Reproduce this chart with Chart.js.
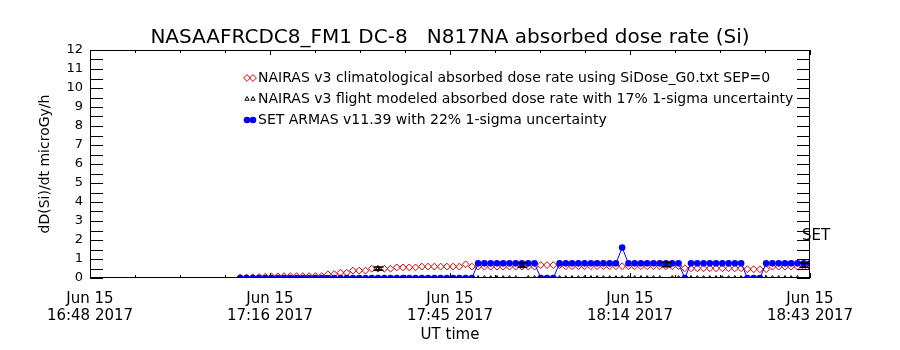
<!DOCTYPE html>
<html>
<head>
<meta charset="utf-8">
<title>N817NA absorbed dose rate</title>
<script src="https://cdn.jsdelivr.net/npm/chart.js@4.4.1/dist/chart.umd.min.js"></script>
<style>
  body { margin: 0; background: #fff; }
  #wrap { width: 900px; height: 350px; }
</style>
</head>
<body>
<div id="wrap"><canvas id="dose" width="900" height="350"></canvas></div>
<script>
// sample times, minutes after 16:48 UT on Jun 15 2017
var minutes = [
  24, 25, 26, 27, 28, 29, 30, 31, 32, 33,
  34, 35, 36, 37, 38, 39, 40, 41, 42, 43,
  44, 45, 46, 47, 48, 49, 50, 51, 52, 53,
  54, 55, 56, 57, 58, 59, 60, 61, 62, 63,
  64, 65, 66, 67, 68, 69, 70, 71, 72, 73,
  74, 75, 76, 77, 78, 79, 80, 81, 82, 83,
  84, 85, 86, 87, 88, 89, 90, 91, 92, 93,
  94, 95, 96, 97, 98, 99, 100, 101, 102, 103,
  104, 105, 106, 107, 108, 109, 110, 111, 112, 113,
  114, 115
];

// NAIRAS v3 climatological (microGy/h)
var climatological = [
  0.03, 0.03, 0.04, 0.06, 0.07, 0.08, 0.09, 0.10, 0.10, 0.10,
  0.10, 0.10, 0.10, 0.10, 0.19, 0.21, 0.28, 0.28, 0.39, 0.39,
  0.39, 0.49, 0.49, 0.49, 0.49, 0.56, 0.56, 0.56, 0.56, 0.60,
  0.60, 0.60, 0.60, 0.60, 0.60, 0.60, 0.72, 0.60, 0.60, 0.60,
  0.60, 0.60, 0.60, 0.60, 0.60, 0.60, 0.60, 0.60, 0.68, 0.68,
  0.68, 0.68, 0.62, 0.62, 0.62, 0.62, 0.62, 0.62, 0.62, 0.62,
  0.62, 0.62, 0.62, 0.62, 0.62, 0.62, 0.62, 0.62, 0.62, 0.62,
  0.62, 0.51, 0.51, 0.51, 0.51, 0.51, 0.51, 0.51, 0.51, 0.51,
  0.51, 0.46, 0.46, 0.46, 0.46, 0.60, 0.60, 0.60, 0.60, 0.60,
  0.60, 0.60
];

// NAIRAS v3 flight modeled (microGy/h)
var flightModeled = [
  0, 0, 0, 0, 0, 0, 0, 0, 0, 0,
  0, 0, 0, 0, 0, 0, 0, 0, 0, 0,
  0, 0, 0.49, 0, 0, 0, 0, 0, 0, 0,
  0, 0, 0, 0, 0, 0, 0, 0, 0, 0,
  0, 0, 0, 0, 0, 0.68, 0, 0, 0, 0,
  0, 0, 0, 0, 0, 0, 0, 0, 0, 0,
  0, 0, 0, 0, 0, 0, 0, 0, 0.71, 0,
  0, 0, 0, 0, 0, 0, 0, 0, 0, 0,
  0, 0, 0, 0, 0, 0, 0, 0, 0, 0,
  0.68, 0
];
var flightSigma = 0.17;

// SET ARMAS v11.39 (microGy/h)
var armas = [
  0, 0, 0, 0, 0, 0, 0, 0, 0, 0,
  0, 0, 0, 0, 0, 0, 0, 0, 0, 0,
  0, 0, 0, 0, 0, 0, 0, 0, 0, 0,
  0, 0, 0, 0, 0, 0, 0, 0, 0.77, 0.77,
  0.77, 0.77, 0.77, 0.77, 0.77, 0.77, 0.77, 0.77, 0, 0,
  0, 0.77, 0.77, 0.77, 0.77, 0.77, 0.77, 0.77, 0.77, 0.77,
  0.77, 1.6, 0.77, 0.77, 0.77, 0.77, 0.77, 0.77, 0.77, 0.77,
  0.77, 0, 0.77, 0.77, 0.77, 0.77, 0.77, 0.77, 0.77, 0.77,
  0.77, 0, 0, 0, 0.77, 0.77, 0.77, 0.77, 0.77, 0.77,
  0.77, 0.77
];

var xTickMinutes = [0, 28.75, 57.5, 86.25, 115];
var xTickLabels = [
  ["Jun 15", "16:48 2017"],
  ["Jun 15", "17:16 2017"],
  ["Jun 15", "17:45 2017"],
  ["Jun 15", "18:14 2017"],
  ["Jun 15", "18:43 2017"]
];
var xMinorStep = 7.1875;
var yMinorStep = 0.5;

var legendLabels = [
  "NAIRAS v3 climatological absorbed dose rate using SiDose_G0.txt SEP=0",
  "NAIRAS v3 flight modeled absorbed dose rate with 17% 1-sigma uncertainty",
  "SET ARMAS v11.39 with 22% 1-sigma uncertainty"
];
var setTag = { text: "SET", minute: 115, value: 2.2 };

function xy(vals) {
  return minutes.map(function (m, i) { return { x: m, y: vals[i] }; });
}

// IDL style frame, inward ticks, error bars, legend
var idlAxes = {
  id: 'idlAxes',
  afterDatasetsDraw: function (chart) {
    var c = chart.ctx, a = chart.chartArea;
    var xs = chart.scales.x, ys = chart.scales.y;
    c.save();

    c.strokeStyle = '#000';
    c.lineWidth = 1.5;
    c.beginPath();
    flightModeled.forEach(function (v, i) {
      if (!v) return;
      var px = Math.round(xs.getPixelForValue(minutes[i])) + 0.5;
      var hi = ys.getPixelForValue(v * (1 + flightSigma));
      var lo = ys.getPixelForValue(v * (1 - flightSigma));
      c.moveTo(px, hi); c.lineTo(px, lo);
      c.moveTo(px - 5, hi); c.lineTo(px + 5, hi);
      c.moveTo(px - 5, lo); c.lineTo(px + 5, lo);
    });
    c.stroke();

    c.lineWidth = 1;
    c.strokeRect(Math.round(a.left) + 0.5, Math.round(a.top) + 0.5,
      Math.round(a.width) - 1, Math.round(a.height) - 1);

    c.beginPath();
    for (var k = 0; k * xMinorStep <= xs.max + 1e-6; k++) {
      var px = Math.round(xs.getPixelForValue(k * xMinorStep)) + 0.5;
      var len = k % 4 === 0 ? 5 : 3;
      c.moveTo(px, a.bottom); c.lineTo(px, a.bottom - len);
      c.moveTo(px, a.top); c.lineTo(px, a.top + len);
    }
    for (var v = ys.min; v <= ys.max + 1e-6; v += yMinorStep) {
      var py = Math.round(ys.getPixelForValue(v)) + 0.5;
      c.moveTo(a.left, py); c.lineTo(a.left + 13, py);
      c.moveTo(a.right, py); c.lineTo(a.right - 13, py);
    }
    c.stroke();

    // legend
    c.font = '14px "DejaVu Sans"';
    c.textBaseline = 'middle';
    chart.data.datasets.forEach(function (ds, i) {
      var lx = a.left + 168, ly = a.top + 28 + i * 21;
      if (ds.showLine) {
        c.strokeStyle = ds.borderColor;
        c.beginPath(); c.moveTo(lx - 11, ly); c.lineTo(lx - 5, ly); c.stroke();
      }
      [lx - 11, lx - 5].forEach(function (mx) {
        c.fillStyle = ds.pointBackgroundColor;
        c.strokeStyle = ds.pointBorderColor;
        c.lineWidth = ds.pointBorderWidth || 1;
        Chart.helpers.drawPoint(c, {
          pointStyle: ds.pointStyle, radius: ds.pointRadius,
          rotation: 0, borderWidth: ds.pointBorderWidth
        }, mx, ly);
      });
      c.fillStyle = '#000';
      c.fillText(legendLabels[i], lx, ly);
    });

    c.font = '15px "DejaVu Sans"';
    c.fillText(setTag.text, xs.getPixelForValue(setTag.minute) - 8, ys.getPixelForValue(setTag.value));
    c.restore();
  }
};

Chart.defaults.font.family = '"DejaVu Sans", sans-serif';
Chart.defaults.color = '#000';

var ctx = document.getElementById('dose');
var doseChart = new Chart(ctx, {
  type: 'scatter',
  data: {
    datasets: [{
      label: legendLabels[0],
      data: xy(climatological),
      showLine: false,
      pointStyle: 'rectRot',
      pointRadius: 3.4,
      pointBorderWidth: 1,
      pointBorderColor: '#d00000',
      pointBackgroundColor: 'rgba(0,0,0,0)',
      clip: 0,
      order: 3
    }, {
      label: legendLabels[1],
      data: xy(flightModeled),
      showLine: false,
      pointStyle: 'triangle',
      pointRadius: 2.5,
      pointBorderWidth: 1,
      pointBorderColor: '#000',
      pointBackgroundColor: 'rgba(0,0,0,0)',
      clip: 0,
      order: 2
    }, {
      label: legendLabels[2],
      data: xy(armas),
      showLine: true,
      borderColor: '#0000ff',
      borderWidth: 1,
      pointStyle: 'circle',
      pointRadius: 3.3,
      pointBorderWidth: 0,
      pointBorderColor: '#0000ff',
      pointBackgroundColor: '#0000ff',
      clip: 0,
      order: 1
    }]
  },
  options: {
    responsive: false,
    animation: false,
    events: [],
    layout: { padding: 0 },
    plugins: {
      legend: { display: false },
      tooltip: { enabled: false },
      title: {
        display: true,
        text: 'NASAAFRCDC8_FM1 DC-8   N817NA absorbed dose rate (Si)',
        font: { size: 20, weight: 'normal' },
        color: '#000',
        padding: { top: 26, bottom: 0 }
      }
    },
    scales: {
      x: {
        type: 'linear',
        min: 0,
        max: 115,
        grid: { display: false, drawTicks: false },
        border: { display: false },
        afterBuildTicks: function (axis) {
          axis.ticks = xTickMinutes.map(function (m) { return { value: m }; });
        },
        afterFit: function (scale) { scale.height = 72; },
        ticks: {
          autoSkip: false,
          maxRotation: 0,
          padding: 12,
          font: { size: 15, lineHeight: 1.15 },
          callback: function (v, i) { return xTickLabels[i]; }
        },
        title: {
          display: true,
          text: 'UT time',
          font: { size: 15 },
          padding: { top: 0, bottom: 6 }
        }
      },
      y: {
        min: 0,
        max: 12,
        grid: { display: false, drawTicks: false },
        border: { display: false },
        afterFit: function (scale) { scale.width = 90; },
        ticks: {
          stepSize: 1,
          autoSkip: false,
          padding: 7,
          font: { size: 13 }
        },
        title: {
          display: true,
          text: 'dD(Si)/dt microGy/h',
          font: { size: 14 },
          padding: { top: 37, bottom: 0 }
        }
      },
      yRight: {
        position: 'right',
        min: 0,
        max: 12,
        grid: { display: false, drawTicks: false },
        border: { display: false },
        ticks: { display: false },
        afterFit: function (scale) { scale.width = 90; }
      }
    }
  },
  plugins: [idlAxes]
});
</script>
</body>
</html>
